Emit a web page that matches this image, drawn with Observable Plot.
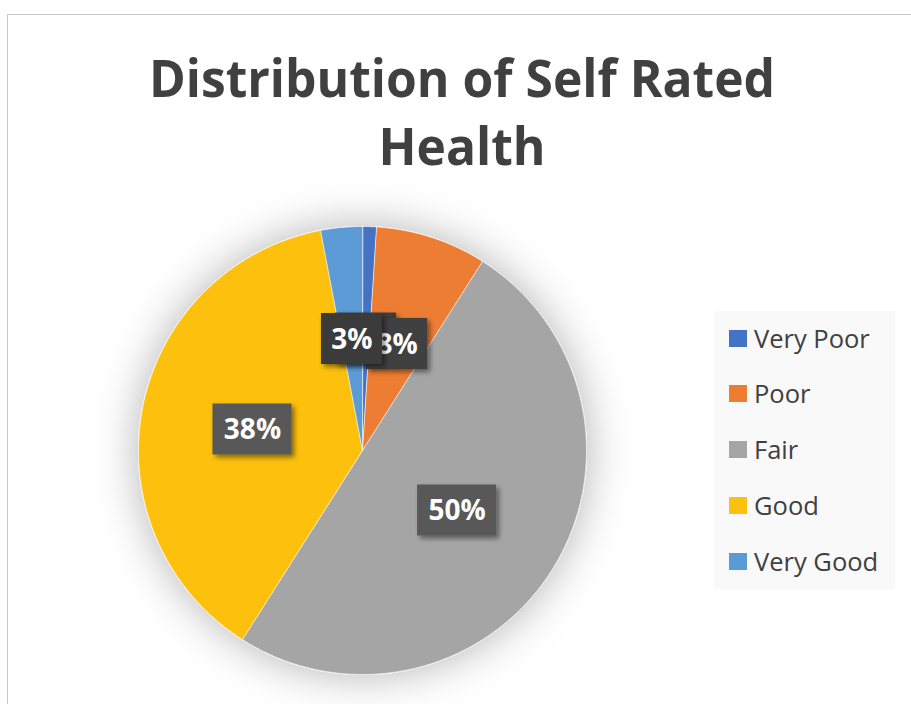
<!DOCTYPE html>
<html><head><meta charset="utf-8">
<script src="https://cdn.jsdelivr.net/npm/d3@7"></script>
<script src="https://cdn.jsdelivr.net/npm/@observablehq/plot@0.6"></script>
<style>
body{margin:0;background:#fff;}
#wrap{position:relative;width:911px;height:704px;overflow:hidden;font-family:"Open Sans",sans-serif;background:#fff;}
#frame{position:absolute;left:7px;top:14px;width:1000px;height:1000px;border:1px solid #c8c8c8;box-sizing:border-box;}
#title{position:absolute;left:62px;top:43px;width:800px;text-align:center;font-weight:700;font-size:52px;line-height:68px;color:#404040;transform:scaleX(0.957);transform-origin:400px 0;}
#chart{position:absolute;left:0;top:0;}
#legend{position:absolute;left:714px;top:311px;width:181px;height:278px;background:#f9f9f9;}
.item{position:absolute;left:15px;height:28px;display:flex;align-items:center;font-size:25.5px;color:#404040;white-space:nowrap;}
.sw{width:18px;height:17px;margin-right:7px;flex:none;}
</style></head>
<body><div id="wrap"><div id="frame"></div><div id="chart"></div><div id="title">Distribution of Self Rated<br>Health</div><div id="legend"></div></div>
<script>
const categories = ["Very Poor", "Poor", "Fair", "Good", "Very Good"];
const shares = [1, 8, 50, 38, 3];
const labels = ["1%", "8%", "50%", "38%", "3%"];

const palette = ["#4472C4", "#ED7D31", "#A5A5A5", "#FCC010", "#5B9BD5"];
const boxFill = ["#3c3c3c", "#3f3f3f", "#595959", "#595959", "#3a3a3a"];

const arcs = d3.pie().sort(null).startAngle(0).endAngle(2 * Math.PI)(shares);
const wedgePts = [];
arcs.forEach((a, i) => {
  wedgePts.push({cat: categories[i], x: 0, y: 0});
  const n = Math.max(4, Math.ceil((a.endAngle - a.startAngle) / 0.01));
  for (let k = 0; k <= n; k++) {
    const t = a.startAngle + (a.endAngle - a.startAngle) * k / n;
    wedgePts.push({cat: categories[i], x: Math.sin(t), y: Math.cos(t)});
  }
});
const R = 224; // pixels per unit radius
const labelData = arcs.map((a, i) => {
  const m = (a.startAngle + a.endAngle) / 2;
  const hw = (labels[i].length === 2 ? 30.5 : 39.5) / R;
  const hh = 25.5 / R;
  const x = 0.5 * Math.sin(m), y = 0.5 * Math.cos(m);
  return {cat: categories[i], label: labels[i], x, y, x1: x - hw, x2: x + hw, y1: y - hh, y2: y + hh, box: boxFill[i]};
});

const marks = [
  Plot.line(wedgePts, {x: "x", y: "y", z: "cat", fill: "cat", stroke: "#ffffff", strokeWidth: 0.6, curve: "linear-closed"})
];
labelData.forEach(d => {
  marks.push(Plot.rect([d], {x1: "x1", x2: "x2", y1: "y1", y2: "y2", fill: "box"}));
  marks.push(Plot.text([d], {x: "x", y: "y", text: "label", fill: "#ffffff", fontSize: 28, fontWeight: 700, fontFamily: "Open Sans", dy: 1}));
});

const plot = Plot.plot({
  width: 911, height: 704, margin: 0,
  x: {domain: [-1, 1], range: [362 - R, 362 + R], axis: null},
  y: {domain: [-1, 1], range: [450 + R, 450 - R], axis: null},
  color: {domain: categories, range: palette},
  style: {background: "transparent", overflow: "visible"},
  marks
});

const svg = d3.select(plot);
const defs = svg.insert("defs", ":first-child");
defs.append("filter").attr("id", "pieShadow").attr("x", "-40%").attr("y", "-40%").attr("width", "180%").attr("height", "180%")
  .append("feDropShadow").attr("dx", 0).attr("dy", 0).attr("stdDeviation", 22).attr("flood-color", "#000").attr("flood-opacity", 0.3);
defs.append("filter").attr("id", "boxShadow").attr("x", "-30%").attr("y", "-30%").attr("width", "160%").attr("height", "160%")
  .append("feDropShadow").attr("dx", 3).attr("dy", 3).attr("stdDeviation", 2.5).attr("flood-color", "#000").attr("flood-opacity", 0.45);
svg.selectAll('g[aria-label="line"]').attr("filter", "url(#pieShadow)");
svg.selectAll('g[aria-label="rect"]').attr("filter", "url(#boxShadow)");
document.getElementById("chart").appendChild(plot);

const legend = document.getElementById("legend");
const rowY = [338, 393, 449, 505, 561];
categories.forEach((c, i) => {
  const it = document.createElement("div");
  it.className = "item";
  it.style.top = (rowY[i] - 311 - 14) + "px";
  it.innerHTML = `<div class="sw" style="background:${palette[i]}"></div><span>${c}</span>`;
  legend.appendChild(it);
});
</script></body></html>
